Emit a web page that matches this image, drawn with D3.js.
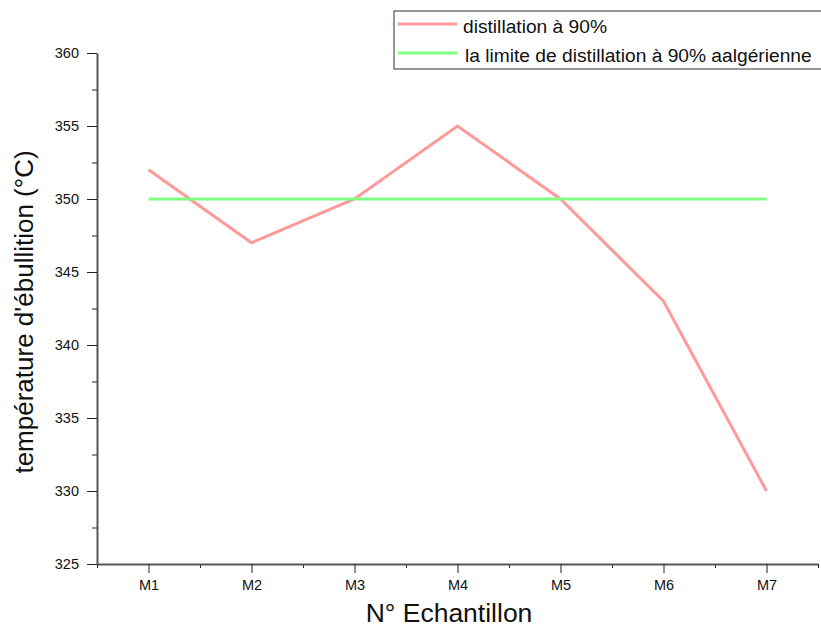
<!DOCTYPE html>
<html>
<head>
<meta charset="utf-8">
<script src="https://cdn.jsdelivr.net/npm/d3@7"></script>
<style>
  body { margin: 0; background: #fff; }
  svg { display: block; font-family: "Liberation Sans", Arial, sans-serif; }
</style>
</head>
<body>
<div id="chart"></div>
<script>
// data
var samples = ['M1', 'M2', 'M3', 'M4', 'M5', 'M6', 'M7'];
var distillation90 = [352, 347, 350, 355, 350, 343, 330];
var limiteAlgerienne = [350, 350, 350, 350, 350, 350, 350];
var yTicks = [325, 330, 335, 340, 345, 350, 355, 360];
var seriesNames = ['distillation à 90%', 'la limite de distillation à 90% aalgérienne'];

var W = 821, H = 628;
var margin = {left: 97, right: 3, top: 53, bottom: 64};

var svg = d3.select('#chart').append('svg')
  .attr('width', W)
  .attr('height', H);

// positions: category i at i+1, axis spans 0.5 .. 7.5
var x = d3.scaleLinear()
  .domain([0.5, samples.length + 0.5])
  .range([margin.left, W - margin.right]);

var y = d3.scaleLinear()
  .domain([325, 360])
  .range([H - margin.bottom, margin.top]);

var axisColor = '#555';

// minor ticks first (half steps)
var yMinor = d3.range(327.5, 360, 5);
svg.append('g')
  .attr('transform', 'translate(' + margin.left + ',0)')
  .call(d3.axisLeft(y).tickValues(yMinor).tickSize(5).tickFormat(''))
  .call(function(g){ g.select('.domain').remove(); g.selectAll('line').attr('stroke', '#222'); });

var xMinor = d3.range(0.5, samples.length + 1, 1);
svg.append('g')
  .attr('transform', 'translate(0,' + (H - margin.bottom) + ')')
  .call(d3.axisBottom(x).tickValues(xMinor).tickSize(4).tickFormat(''))
  .call(function(g){ g.select('.domain').remove(); g.selectAll('line').attr('stroke', '#222'); });

// major y axis
var yAxis = svg.append('g')
  .attr('transform', 'translate(' + margin.left + ',0)')
  .call(d3.axisLeft(y).tickValues(yTicks).tickSize(10).tickSizeOuter(0).tickPadding(8));
yAxis.select('.domain').attr('stroke', axisColor).attr('stroke-width', 2);
yAxis.selectAll('line').attr('stroke', '#222');
yAxis.selectAll('text').attr('font-size', 14.5).attr('fill', '#111');

// major x axis
var xAxis = svg.append('g')
  .attr('transform', 'translate(0,' + (H - margin.bottom) + ')')
  .call(d3.axisBottom(x)
    .tickValues(samples.map(function(d, i){ return i + 1; }))
    .tickFormat(function(d){ return samples[d - 1]; })
    .tickSize(9).tickSizeOuter(0).tickPadding(7));
xAxis.select('.domain').attr('stroke', axisColor).attr('stroke-width', 2);
xAxis.selectAll('line').attr('stroke', '#222');
xAxis.selectAll('text').attr('font-size', 14.5).attr('fill', '#111');

// lines
var line = d3.line()
  .x(function(d, i){ return x(i + 1); })
  .y(function(d){ return y(d); });

var colors = ['#ff9a9a', '#80ff80'];
[distillation90, limiteAlgerienne].forEach(function(s, k){
  svg.append('path')
    .datum(s)
    .attr('fill', 'none')
    .attr('stroke', colors[k])
    .attr('stroke-width', 3)
    .attr('d', line);
});

// axis titles
svg.append('text')
  .attr('transform', 'translate(33,312) rotate(-90)')
  .attr('text-anchor', 'middle')
  .attr('font-size', 26)
  .attr('fill', '#111')
  .text("température d'ébullition (°C)");

svg.append('text')
  .attr('x', 449)
  .attr('y', 622)
  .attr('text-anchor', 'middle')
  .attr('font-size', 26.5)
  .attr('fill', '#111')
  .text('N° Echantillon');

// legend
var legend = svg.append('g');
legend.append('rect')
  .attr('x', 394).attr('y', 11)
  .attr('width', 440).attr('height', 58)
  .attr('fill', '#fff')
  .attr('stroke', '#333')
  .attr('stroke-width', 1);

seriesNames.forEach(function(name, k){
  var ly = 24 + k * 29;
  legend.append('line')
    .attr('x1', 398).attr('x2', 457)
    .attr('y1', ly).attr('y2', ly)
    .attr('stroke', colors[k])
    .attr('stroke-width', 3);
  legend.append('text')
    .attr('x', 463 + (k ? 2 : 0))
    .attr('y', ly + 9)
    .attr('font-size', 19.2)
    .attr('fill', '#111')
    .text(name);
});
</script>
</body>
</html>
